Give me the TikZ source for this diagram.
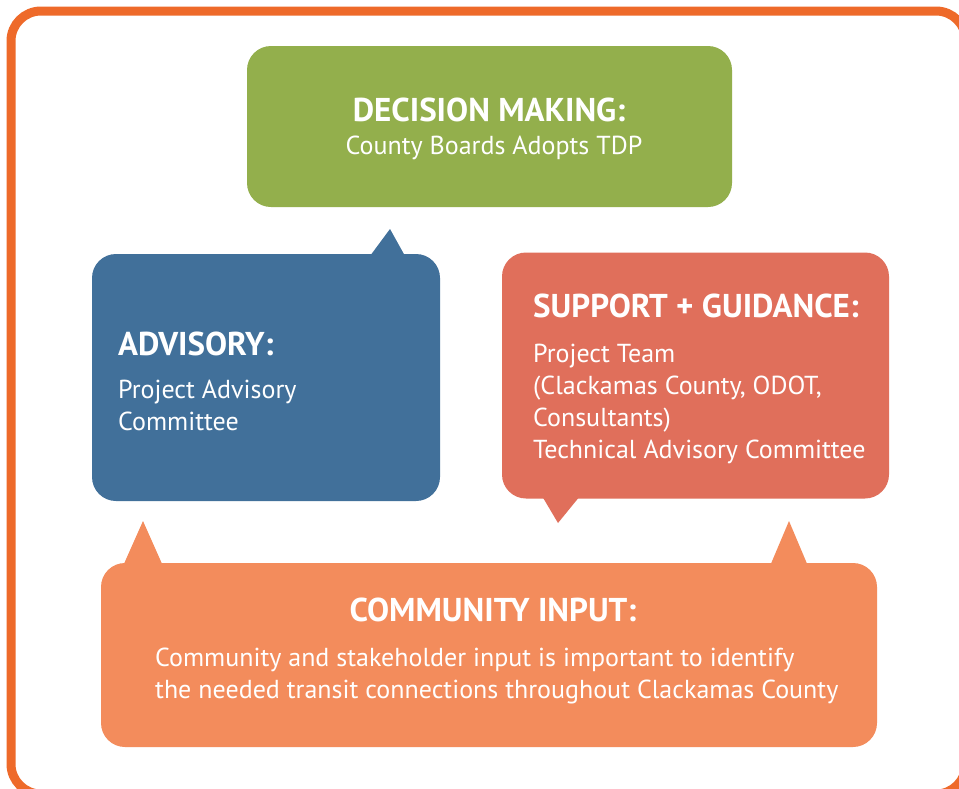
\documentclass[tikz,border=0pt]{standalone}
\usepackage{fontspec}
\setmainfont{PT Sans}
\usepackage{xcolor}
\usetikzlibrary{calc,positioning}

\definecolor{frameorange}{HTML}{EE6A2A}
\definecolor{decgreen}{HTML}{93AF4C}
\definecolor{advblue}{HTML}{41709A}
\definecolor{supred}{HTML}{E06F5B}
\definecolor{comorange}{HTML}{F38C5C}

\tikzset{
	bubble/.style={rectangle, rounded corners=24pt, inner sep=0pt, outer sep=0pt},
	head/.style={font=\fontsize{33}{36}\selectfont\bfseries, text=white, inner sep=0pt, anchor=base west},
	body/.style={font=\fontsize{26}{32}\selectfont, text=white, align=left, inner sep=0pt, anchor=base west},
}

\begin{document}
\begin{tikzpicture}[x=1pt,y=-1pt]
	\useasboundingbox (0,0) rectangle (959,788);
	\fill[white] (0,0) rectangle (959,788);
	% outer frame, cut at the right and bottom
	\draw[frameorange, line width=9pt, rounded corners=30pt] (11,11) rectangle (966,794);

	% the four speech bubbles
	\node[bubble, fill=decgreen, minimum width=485pt, minimum height=161pt] (dec) at (489.5,126.5) {};
	\node[bubble, fill=advblue, minimum width=348pt, minimum height=247pt] (adv) at (266,377.5) {};
	\node[bubble, fill=supred, minimum width=387pt, minimum height=246pt] (sup) at (695.5,375.5) {};
	\node[bubble, fill=comorange, minimum width=776pt, minimum height=184pt] (com) at (489,655) {};

	% tails
	\fill[advblue] (370,256) -- (390,229) -- (405,256) -- cycle;
	\fill[supred] (542,496) -- (558,523) -- (580,496) -- cycle;
	\fill[comorange] (123,566) -- (143,521) -- (163,566) -- cycle;
	\fill[comorange] (770,566) -- (789,521) -- (808,566) -- cycle;

	% texts (base of a block = baseline of its last line)
	\node[head, anchor=base] (dechead) at (489,121) {DECISION MAKING:};
	\node[body, anchor=base] (decbody) at (494,154) {County Boards Adopts TDP};

	\node[head] (advhead) at (118,355) {ADVISORY:};
	\node[body] (advbody) at (118,430) {Project Advisory\\Committee};

	\node[head] (suphead) at (533,317) {SUPPORT + GUIDANCE:};
	\node[body] (supbody) at (533,458) {Project Team\\(Clackamas County, ODOT,\\Consultants)\\Technical Advisory Committee};

	\node[head, anchor=base] (comhead) at (493,621) {COMMUNITY INPUT:};
	\node[body] (combody) at (155,698) {Community and stakeholder input is important to identify\\the needed transit connections throughout Clackamas County};
\end{tikzpicture}
\end{document}
